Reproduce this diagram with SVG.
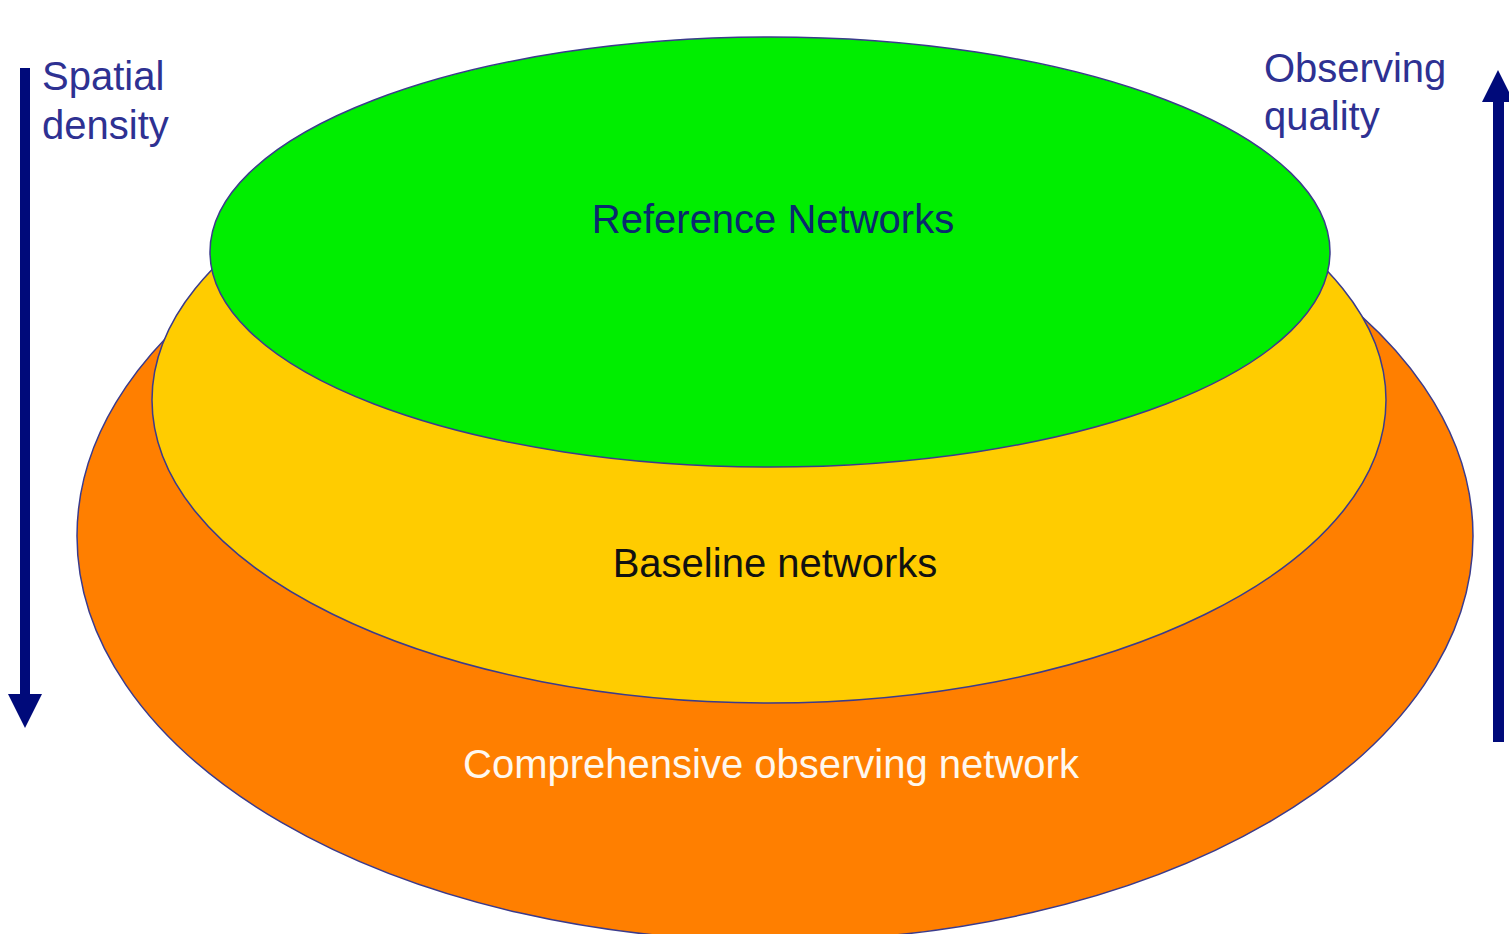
<svg xmlns="http://www.w3.org/2000/svg" width="1509" height="934" viewBox="0 0 1509 934">
<style>
.ell{stroke:#3b3b8c;stroke-width:1.5}
.lbl{font-family:"Liberation Sans",Arial,sans-serif;font-size:40px}
.side{fill:#2e3192}
.arrow{fill:#000a7a}
</style>
<rect width="1509" height="934" fill="#ffffff"/>
<g id="comprehensive">
<ellipse class="ell" cx="775" cy="536" rx="698" ry="405" fill="#ff7f00"/>
<text class="lbl" x="771" y="778" text-anchor="middle" fill="#fff8ee">Comprehensive observing network</text>
</g>
<g id="baseline">
<ellipse class="ell" cx="769" cy="400" rx="617" ry="303" fill="#ffcc00"/>
<text class="lbl" x="775" y="577" text-anchor="middle" fill="#111111">Baseline networks</text>
</g>
<g id="reference">
<ellipse class="ell" cx="770" cy="252" rx="560" ry="215" fill="#00ee00"/>
<text class="lbl" x="773" y="233" text-anchor="middle" fill="#0a2a6e">Reference Networks</text>
</g>
<g id="connectors">
<path class="arrow" d="M20 68 H30 V694 H42 L25 728 L8 694 H20 Z"/>
<path class="arrow" d="M1493 742 H1504 V102 H1514 L1498 70 L1482 102 H1493 Z"/>
</g>
<g id="spatial-density">
<text class="lbl side" x="42" y="90">Spatial</text>
<text class="lbl side" x="42" y="139">density</text>
</g>
<g id="observing-quality">
<text class="lbl side" x="1264" y="82">Observing</text>
<text class="lbl side" x="1264" y="130">quality</text>
</g>
</svg>
